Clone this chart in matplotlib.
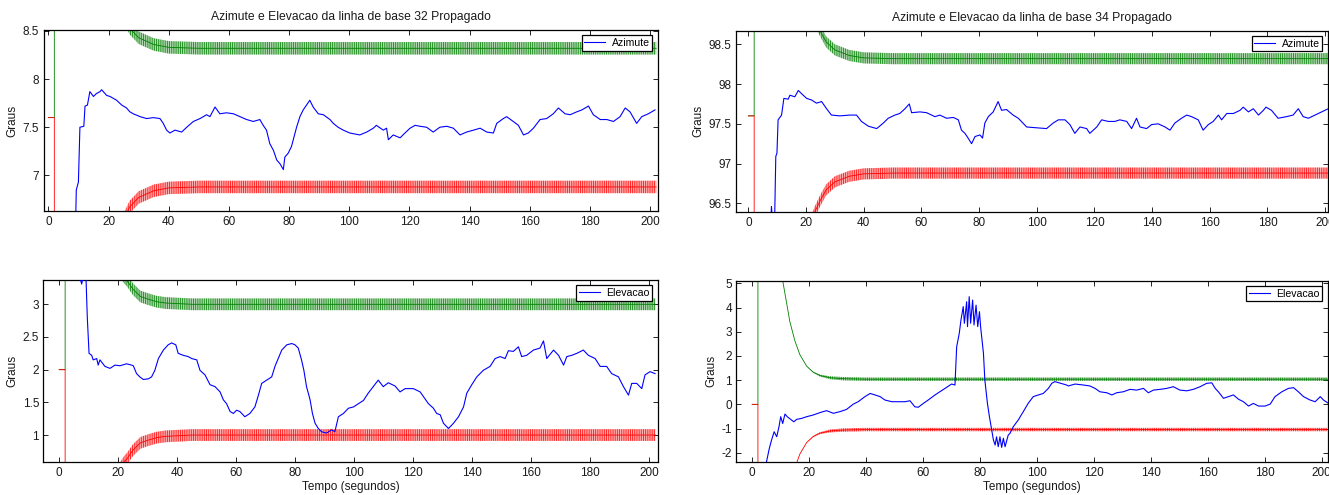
import numpy as np
import matplotlib
matplotlib.use("Agg")
import matplotlib.pyplot as plt

plt.rcParams['font.family'] = ['Liberation Sans', 'DejaVu Sans']
plt.rcParams['hatch.linewidth'] = 0.8

# ---------------------------------------------------------------- data
x_ticks = [0, 20, 40, 60, 80, 100, 120, 140, 160, 180, 200]

# Azimute, linha de base 32 (graus)
t_az32 = [9.0, 9.3, 10.0, 10.5, 11.8, 12.2, 13.0, 13.8, 15.0, 16.0, 17.2, 17.7, 19.4, 20.5,
          21.6, 22.7, 24.4, 26.0, 27.1, 28.2, 30.5, 32.7, 34.9, 37.1, 38.2, 39.3, 40.4,
          42.1, 44.3, 46.0, 48.2, 50.4, 52.6, 53.7, 55.4, 57.0, 59.2, 61.5, 63.7, 65.9,
          68.1, 70.3, 71.4, 72.5, 73.6, 74.8, 75.9, 77.0, 78.1, 78.6, 79.7, 80.8, 82.5,
          83.6, 84.7, 85.8, 86.9, 88.0, 89.7, 91.4, 93.6, 94.7, 96.3, 98.0, 100.2, 103.5,
          105.8, 108.0, 109.0, 111.3, 112.4, 113.0, 114.6, 116.9, 118.5, 120.2, 121.9,
          123.5, 125.7, 127.9, 130.1, 132.4, 134.6, 136.8, 139.0, 141.3, 143.5, 145.7,
          147.9, 149.0, 151.2, 152.3, 154.5, 156.2, 157.9, 159.5, 161.2, 163.4, 165.6,
          167.8, 169.5, 171.7, 173.4, 175.6, 177.3, 179.5, 181.1, 183.4, 185.6, 187.8,
          190.0, 191.7, 193.3, 195.5, 197.2, 199.4, 201.6]
az32 = [6.40, 6.85, 6.93, 7.50, 7.51, 7.72, 7.73, 7.87, 7.82, 7.85, 7.87, 7.89, 7.83, 7.82,
        7.80, 7.78, 7.73, 7.70, 7.66, 7.64, 7.61, 7.59, 7.60, 7.59, 7.54, 7.47, 7.44,
        7.47, 7.45, 7.50, 7.56, 7.59, 7.63, 7.61, 7.71, 7.64, 7.65, 7.64, 7.61, 7.58,
        7.56, 7.58, 7.52, 7.47, 7.33, 7.26, 7.16, 7.12, 7.06, 7.19, 7.23, 7.30, 7.50,
        7.61, 7.68, 7.73, 7.78, 7.71, 7.64, 7.63, 7.58, 7.54, 7.50, 7.47, 7.44, 7.42,
        7.45, 7.49, 7.52, 7.47, 7.49, 7.37, 7.42, 7.39, 7.44, 7.49, 7.52,
        7.51, 7.50, 7.45, 7.50, 7.51, 7.49, 7.42, 7.45, 7.47, 7.49, 7.45,
        7.44, 7.54, 7.59, 7.61, 7.56, 7.52, 7.42, 7.44, 7.49, 7.58, 7.59,
        7.64, 7.70, 7.64, 7.63, 7.66, 7.68, 7.72, 7.63, 7.58, 7.58, 7.56,
        7.61, 7.70, 7.66, 7.54, 7.61, 7.64, 7.68]

# Azimute, linha de base 34 (graus)
t_az34 = [7.8, 8.0, 8.3, 9.1, 9.5, 9.9, 10.3, 11.5, 12.3, 13.8, 14.4, 16.1, 17.3, 19.0,
          20.2, 21.9, 23.6, 25.4, 27.1, 28.8, 31.7, 35.2, 37.5, 39.2, 41.6, 44.5, 46.8,
          48.5, 50.8, 52.5, 54.3, 55.8, 56.6, 59.5, 61.8, 64.7, 66.4, 68.7, 71.1, 72.8,
          73.9, 75.1, 76.2, 77.4, 78.6, 80.3, 81.2, 82.0, 83.2, 84.9, 86.6, 87.8, 89.5,
          91.8, 93.6, 96.5, 99.9, 103.4, 105.7, 107.5, 109.8, 111.5, 113.2, 115.0, 117.3,
          118.4, 120.8, 122.5, 124.8, 127.1, 128.8, 131.2, 132.9, 134.6, 135.8, 138.1,
          139.8, 142.1, 144.5, 146.2, 147.9, 150.2, 152.0, 153.7, 156.0, 157.7, 159.5,
          161.2, 163.0, 164.1, 165.9, 168.2, 170.5, 171.6, 173.4, 175.1, 176.9, 178.6,
          179.5, 181.4, 183.7, 186.6, 188.9, 190.7, 192.4, 194.2, 196.5, 198.8, 201.1]
az34 = [96.30, 96.46, 96.30, 96.30, 97.09, 97.13, 97.55, 97.61, 97.82, 97.81, 97.86, 97.84,
        97.92, 97.86, 97.82, 97.80, 97.76, 97.78, 97.69, 97.61, 97.60, 97.61, 97.61, 97.53,
        97.47, 97.44, 97.51, 97.57, 97.61, 97.63, 97.69, 97.75, 97.64, 97.65, 97.64, 97.59,
        97.61, 97.57, 97.58, 97.55, 97.42, 97.38, 97.32, 97.25, 97.34, 97.36, 97.32, 97.51,
        97.59, 97.65, 97.78, 97.67, 97.68, 97.61, 97.57, 97.46, 97.45, 97.44, 97.51, 97.55,
        97.55, 97.49, 97.38, 97.46, 97.44, 97.38, 97.46, 97.55, 97.53, 97.53, 97.55, 97.53,
        97.44, 97.57, 97.46, 97.44, 97.49, 97.50, 97.46, 97.42, 97.51, 97.57, 97.61, 97.59,
        97.55, 97.42, 97.49, 97.53, 97.61, 97.55, 97.63, 97.63, 97.67, 97.71, 97.65, 97.69,
        97.61, 97.67, 97.71, 97.67, 97.57, 97.59, 97.61, 97.69, 97.59, 97.57, 97.61, 97.65,
        97.69]

# Elevacao, linha de base 32 (graus)
t_el32 = [6.5, 7.6, 8.5, 9.0, 9.5, 10.1, 11.0, 11.5, 12.7, 13.2, 13.8, 15.5, 17.2, 18.9,
          20.6, 22.8, 24.5, 25.1, 26.2, 27.3, 28.5, 30.2, 31.3, 32.4, 33.6, 35.3, 36.9,
          38.1, 39.5, 40.3, 42.0, 43.7, 44.9, 46.6, 47.7, 49.4, 51.1, 52.8, 54.5, 55.6,
          56.7, 57.9, 59.0, 60.1, 61.2, 62.9, 64.6, 66.3, 67.5, 68.6, 70.3, 72.0, 73.1,
          74.2, 75.4, 77.1, 78.8, 79.9, 81.0, 82.1, 82.9, 83.8, 85.0, 85.8, 86.7, 87.8,
          88.9, 90.6, 92.3, 93.4, 94.6, 96.3, 98.0, 99.7, 101.4, 103.1, 104.7, 106.4,
          108.1, 109.8, 111.5, 113.8, 115.5, 117.2, 118.9, 120.0, 122.3, 123.4, 125.1,
          126.8, 127.9, 129.1, 130.2, 131.9, 133.6, 135.3, 137.0, 138.1, 139.8, 141.5,
          143.7, 146.0, 147.7, 149.4, 151.1, 152.2, 153.9, 155.6, 156.7, 158.4, 160.7,
          162.9, 164.1, 165.2, 167.5, 169.2, 170.9, 172.0, 173.7, 175.4, 177.6, 179.3,
          181.6, 183.3, 185.5, 187.2, 189.5, 191.2, 192.9, 194.0, 195.7, 197.4, 198.5,
          200.2, 201.9]
el32 = [3.50, 3.31, 3.50, 3.50, 2.81, 2.25, 2.22, 2.15, 2.17, 2.07, 2.15, 2.05, 2.02, 2.07,
        2.06, 2.09, 2.07, 2.06, 1.94, 1.89, 1.85, 1.86, 1.89, 1.99, 2.17, 2.30, 2.38,
        2.41, 2.38, 2.25, 2.22, 2.20, 2.17, 2.15, 1.99, 1.92, 1.77, 1.74, 1.66, 1.54,
        1.48, 1.36, 1.33, 1.38, 1.36, 1.28, 1.33, 1.43, 1.61, 1.79, 1.84, 1.89, 2.05,
        2.17, 2.30, 2.38, 2.40, 2.38, 2.33, 2.15, 1.99, 1.74, 1.54, 1.33, 1.18, 1.10,
        1.05, 1.03, 1.08, 1.05, 1.28, 1.33, 1.41, 1.43, 1.48, 1.53, 1.64, 1.74,
        1.84, 1.74, 1.80, 1.75, 1.66, 1.71, 1.71, 1.71, 1.66, 1.59, 1.48,
        1.41, 1.33, 1.31, 1.18, 1.10, 1.18, 1.28, 1.43, 1.64, 1.77, 1.89,
        1.99, 2.05, 2.17, 2.20, 2.17, 2.29, 2.28, 2.35, 2.20, 2.22, 2.30,
        2.33, 2.44, 2.17, 2.30, 2.22, 2.07, 2.20, 2.22, 2.25, 2.30, 2.22,
        2.17, 2.05, 2.05, 1.94, 1.89, 1.74, 1.61, 1.79, 1.79, 1.71, 1.92,
        1.97, 1.94]

# Elevacao, linha de base 34 (graus)
t_el34 = [2.0, 4.6, 6.0, 6.8, 7.7, 8.6, 9.4, 10.0, 10.7, 11.5, 12.3, 13.8, 14.6, 15.6,
          17.3, 19.1, 21.4, 23.8, 26.1, 28.5, 30.8, 33.1, 35.5, 37.2, 39.6, 41.4, 43.1,
          44.9, 46.6, 49.0, 51.3, 53.7, 55.4, 57.1, 58.3, 60.1, 61.8, 64.2, 65.9, 67.7,
          70.0, 71.2, 71.8, 72.7, 73.3, 74.1, 74.5, 75.3, 75.6, 76.2, 76.7, 77.4, 77.9,
          78.6, 79.2, 79.8, 80.2, 81.2, 81.7, 82.6, 83.3, 84.1, 84.7, 85.3, 85.8, 86.4,
          87.0, 87.6, 88.2, 88.8, 89.9, 90.5, 91.7, 93.4, 95.2, 96.9, 98.7, 100.5, 102.2,
          104.0, 105.2, 106.3, 108.1, 110.4, 111.0, 113.4, 116.3, 118.6, 120.4, 122.1,
          124.5, 126.3, 128.0, 130.3, 132.7, 135.0, 137.4, 139.1, 140.9, 143.2, 145.6,
          147.9, 150.2, 152.6, 154.9, 157.3, 159.6, 161.4, 162.6, 163.7, 165.5, 167.2,
          169.0, 170.8, 172.5, 174.3, 176.0, 177.8, 180.1, 181.9, 183.6, 186.0, 188.3,
          190.1, 191.8, 193.6, 195.9, 197.7, 199.5, 200.6, 202.4]
el34 = [-8.00, -2.60, -1.82, -1.47, -1.13, -1.34, -0.92, -0.51, -0.79, -0.40, -0.51, -0.65,
        -0.72, -0.62, -0.58, -0.51, -0.44, -0.34, -0.26, -0.37, -0.30, -0.21, 0.01, 0.11,
        0.32, 0.45, 0.39, 0.32, 0.18, 0.11, 0.11, 0.11, 0.15, -0.10, -0.12, 0.04, 0.18,
        0.39, 0.52, 0.66, 0.84, 0.80, 2.38, 2.93, 3.48, 4.04, 3.35, 4.24, 3.21, 4.45,
        3.35, 4.31, 3.28, 4.10, 3.21, 3.83, 3.21, 2.11, 1.00, 0.04, -0.51, -1.06, -1.47,
        -1.68, -1.34, -1.75, -1.34, -1.78, -1.40, -1.75, -1.27, -1.20, -0.92, -0.65,
        -0.30, 0.04, 0.32, 0.39, 0.45, 0.66, 0.87, 0.94, 0.88, 0.80, 0.76, 0.84, 0.80,
        0.76, 0.66, 0.52, 0.48, 0.39, 0.48, 0.52, 0.62, 0.59, 0.66, 0.48, 0.59, 0.62,
        0.66, 0.73, 0.59, 0.56, 0.62, 0.73, 0.87, 0.89, 0.66, 0.52, 0.25, 0.32, 0.39,
        0.21, 0.11, -0.07, 0.04, -0.07, -0.07, 0.01, 0.32, 0.52, 0.66, 0.69, 0.52,
        0.32, 0.18, 0.11, 0.32, 0.18, 0.04]

# Valor inicial de cada estado e limites (+/- sigma) do filtro
center_az32 = 7.6
center_az34 = 97.6
center_el32 = 2.0
center_el34 = 0.0

t_bound_az = [2, 6, 10, 15, 20, 23, 25, 27, 30, 35, 40, 50, 202]
bound_az = [30, 8, 4, 2.2, 1.5, 1.21, 1.06, 0.93, 0.83, 0.76, 0.73, 0.72, 0.72]

t_bound_el32 = [2, 6, 10, 15, 20, 22, 23, 25, 27.5, 30, 33, 36, 45, 202]
bound_el32 = [30, 8, 4, 2.2, 1.55, 1.41, 1.36, 1.23, 1.12, 1.08, 1.04, 1.02, 1.0, 1.0]

t_bound_el34 = [2, 5, 8, 10, 10.7, 12.1, 13.2, 15, 16.7, 19.1, 21.4, 23.8, 27.3, 32, 40, 202]
bound_el34 = [60, 20, 9, 6, 5.11, 4.17, 3.42, 2.62, 2.06, 1.58, 1.33, 1.19, 1.10, 1.06, 1.04, 1.04]

# amplitude da oscilacao dos limites
ripple_az32 = 0.065
ripple_az34 = 0.07
ripple_el32 = 0.09
ripple_el34 = [0, 0, 0, 0, 0, 0, 0, 0, 0, 0, 0.02, 0.04, 0.06, 0.07, 0.07, 0.07]

# ---------------------------------------------------------------- figure
BLUE = '#0000ff'
GREEN = '#008000'
RED = '#ff0000'
TXT = '#1a1a1a'

W, H = 1329, 495
fig = plt.figure(figsize=(W / 100, H / 100), dpi=100)


def px_axes(left, top, right, bottom):
    return fig.add_axes([left / W, 1 - bottom / H, (right - left) / W, (bottom - top) / H])


def ripple_band(ax, t, mid, rip, color, z):
    # faixa de oscilacao rapida em torno do limite
    ax.fill_between(t, mid - rip, mid + rip, facecolor=color, alpha=0.12, lw=0, zorder=z)
    ax.fill_between(t, mid - rip, mid + rip, facecolor='none', edgecolor=color,
                    hatch='|' * 9, lw=0, alpha=0.8, zorder=z)


def draw_panel(ax, t_est, est, label, center, t_b, b, ripple, xlim, ylim, yticks, yticklabels):
    t_b = np.asarray(t_b, float)
    b = np.asarray(b, float)
    rip = np.broadcast_to(np.asarray(ripple, float), b.shape)
    upper = center + b
    lower = center - b
    # limites superior (verde) e inferior (vermelho)
    ax.plot(np.r_[0, 2, t_b], np.r_[center, center, upper], color=GREEN, lw=0.6, zorder=2)
    ripple_band(ax, t_b, upper, rip, GREEN, 2)
    ax.plot(np.r_[0, 2, t_b], np.r_[center, center, lower], color=RED, lw=0.6, zorder=3)
    ripple_band(ax, t_b, lower, rip, RED, 3)
    # estimativa
    ax.plot(t_est, est, color=BLUE, lw=0.8, zorder=4, label=label)

    ax.set_xlim(*xlim)
    ax.set_ylim(*ylim)
    ax.set_xticks(x_ticks)
    ax.set_yticks(yticks)
    ax.set_yticklabels(yticklabels)
    ax.tick_params(direction='in', top=True, right=True, length=3.6, width=0.6,
                   labelsize=8.5, colors='#000000', labelcolor=TXT)
    ax.tick_params(axis='x', pad=3.5)
    ax.tick_params(axis='y', pad=3)
    for s in ax.spines.values():
        s.set_linewidth(0.9)
    ax.set_ylabel('Graus', fontsize=8.5, color=TXT, labelpad=3)
    leg = ax.legend(loc='upper right', fontsize=7.6, handlelength=2.0, handletextpad=0.6,
                    borderpad=0.25, borderaxespad=0.5, fancybox=False, framealpha=1,
                    edgecolor='#000000')
    leg.get_frame().set_linewidth(0.9)


ax1 = px_axes(43.5, 30, 657.7, 211)
draw_panel(ax1, t_az32, az32, 'Azimute', center_az32, t_bound_az, bound_az, ripple_az32,
           (-1.6, 202.5), (6.63, 8.51), [7, 7.5, 8, 8.5], ['7', '7.5', '8', '8.5'])
ax1.set_title('Azimute e Elevacao da linha de base 32 Propagado', fontsize=8.7, pad=7,
              color=TXT)

ax2 = px_axes(736, 30.7, 1327.7, 212)
draw_panel(ax2, t_az34, az34, 'Azimute', center_az34, t_bound_az, bound_az, ripple_az34,
           (-4.3, 200.9), (96.39, 98.672), [96.5, 97, 97.5, 98, 98.5],
           ['96.5', '97', '97.5', '98', '98.5'])
ax2.set_title('Azimute e Elevacao da linha de base 34 Propagado', fontsize=8.7, pad=7,
              color=TXT)

ax3 = px_axes(43.3, 280, 657.7, 461.7)
draw_panel(ax3, t_el32, el32, 'Elevacao', center_el32, t_bound_el32, bound_el32, ripple_el32,
           (-5.4, 202.8), (0.592, 3.372), [1, 1.5, 2, 2.5, 3], ['1', '1.5', '2', '2.5', '3'])
ax3.set_xlabel('Tempo (segundos)', fontsize=8.5, color=TXT, labelpad=2)

ax4 = px_axes(736, 280.7, 1327.7, 461.7)
draw_panel(ax4, t_el34, el34, 'Elevacao', center_el34, t_bound_el34, bound_el34, ripple_el34,
           (-5.7, 202.1), (-2.369, 5.11), [-2, -1, 0, 1, 2, 3, 4, 5],
           ['-2', '-1', '0', '1', '2', '3', '4', '5'])
ax4.set_xlabel('Tempo (segundos)', fontsize=8.5, color=TXT, labelpad=2)

fig.savefig('out.png', dpi=100)
